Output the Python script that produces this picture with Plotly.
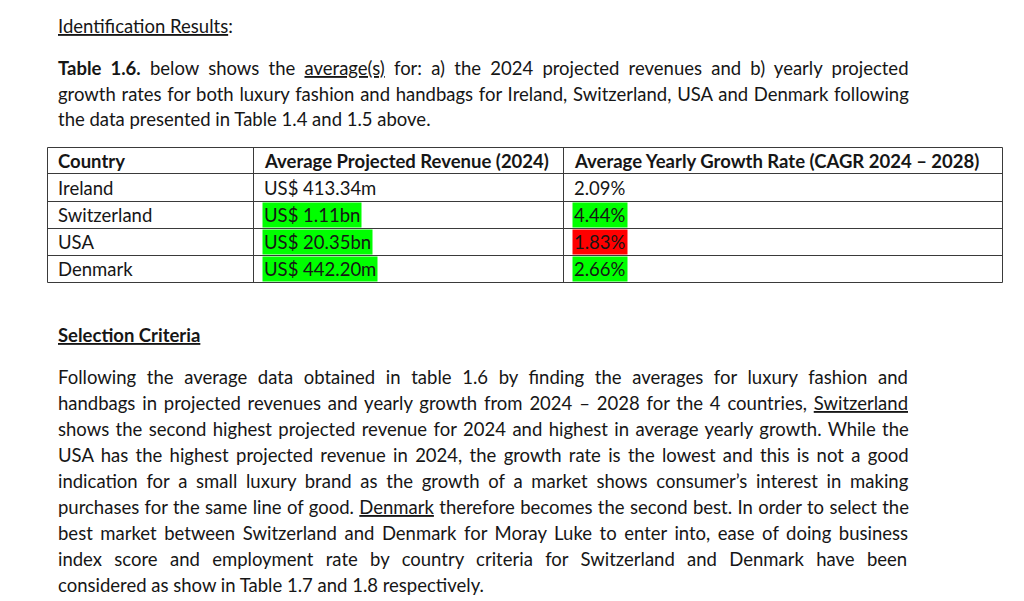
import plotly.graph_objects as go

# ---------------- data ----------------
heading = "<u>Identification Results</u>:"
intro_lines = [
    "<b>Table 1.6.</b> below shows the <u>average(s)</u> for: a) the 2024 projected revenues and b) yearly projected",
    "growth rates for both luxury fashion and handbags for Ireland, Switzerland, USA and Denmark following",
    "the data presented in Table 1.4 and 1.5 above.",
]
table_header = ["Country", "Average Projected Revenue (2024)", "Average Yearly Growth Rate (CAGR 2024 – 2028)"]
countries = ["Ireland", "Switzerland", "USA", "Denmark"]
avg_revenue_2024 = ["US$ 413.34m", "US$ 1.11bn", "US$ 20.35bn", "US$ 442.20m"]
avg_growth_rate = ["2.09%", "4.44%", "1.83%", "2.66%"]
revenue_highlight = [None, "green", "green", "green"]
growth_highlight = [None, "green", "red", "green"]
section_title = "<b><u>Selection Criteria</u></b>"
body_lines = [
    "Following the average data obtained in table 1.6 by finding the averages for luxury fashion and",
    "handbags in projected revenues and yearly growth from 2024 – 2028 for the 4 countries, <u>Switzerland</u>",
    "shows the second highest projected revenue for 2024 and highest in average yearly growth. While the",
    "USA has the highest projected revenue in 2024, the growth rate is the lowest and this is not a good",
    "indication for a small luxury brand as the growth of a market shows consumer’s interest in making",
    "purchases for the same line of good. <u>Denmark</u> therefore becomes the second best. In order to select the",
    "best market between Switzerland and Denmark for Moray Luke to enter into, ease of doing business",
    "index score and employment rate by country criteria for Switzerland and Denmark have been",
    "considered as show in Table 1.7 and 1.8 respectively.",
]

# ---------------- style / layout ----------------
FONT = "Lato"
FS = 18.5
TXT = "#161616"
HL = {"green": "#00ff00", "red": "#ff0000"}
LEFT = 56
intro_spacing = [4.5, 1.0, 0]
body_spacing = [5.9, 2.1, 1.7, 2.6, 4.0, 0.65, 2.8, 7.6, 0]
intro_y0, line_gap = 68, 25.6
body_y0, body_gap = 377, 26
col_edges = [47.5, 253.5, 563.5, 1002.5]
row_edges = [147.5, 173.5, 201.5, 228.5, 255.5, 282.5]
PAGE_OFF = 8  # browser body margin

fig = go.Figure(go.Scatter(x=[], y=[], showlegend=False))
ann = []

def add_text(x, y, text, spacing=0, bg=None):
    if spacing:
        text = f"<span style='word-spacing:{spacing}px'>{text}</span>"
    a = dict(x=x, y=y, xref="x", yref="y", text=text, showarrow=False,
             xanchor="left", yanchor="middle", align="left",
             font=dict(family=FONT, size=FS, color=TXT))
    if bg:
        a.update(bgcolor=HL[bg], borderpad=1)
    ann.append(a)

add_text(LEFT, 26, heading)
for i, line in enumerate(intro_lines):
    add_text(LEFT, intro_y0 + i * line_gap, line, intro_spacing[i])

# table
shapes = []
for y in row_edges:
    shapes.append(dict(type="line", xref="x", yref="y", x0=col_edges[0], x1=col_edges[-1], y0=y, y1=y,
                       line=dict(color="#3a3a3a", width=1)))
for x in col_edges:
    shapes.append(dict(type="line", xref="x", yref="y", x0=x, x1=x, y0=row_edges[0], y1=row_edges[-1],
                       line=dict(color="#3a3a3a", width=1)))

centers = [(row_edges[i] + row_edges[i + 1]) / 2 for i in range(len(row_edges) - 1)]
for j, h in enumerate(table_header):
    add_text(col_edges[j] + 8.5, centers[0], f"<b>{h}</b>")
for i, c in enumerate(countries):
    y = centers[i + 1]
    add_text(col_edges[0] + 8.5, y, c)
    add_text(col_edges[1] + 8, y, avg_revenue_2024[i], bg=revenue_highlight[i])
    add_text(col_edges[2] + 8, y, avg_growth_rate[i], bg=growth_highlight[i])

add_text(LEFT, 335, section_title)
for i, line in enumerate(body_lines):
    add_text(LEFT, body_y0 + i * body_gap, line, body_spacing[i])

fig.update_layout(
    width=1024 - 2 * PAGE_OFF + 8, height=601 - PAGE_OFF, margin=dict(l=0, r=0, t=0, b=0),
    paper_bgcolor="white", plot_bgcolor="white",
    xaxis=dict(range=[PAGE_OFF, 1024], visible=False, fixedrange=True),
    yaxis=dict(range=[601, PAGE_OFF], visible=False, fixedrange=True),
    annotations=ann, shapes=shapes, showlegend=False,
)
fig.write_html("out.html", config={"displayModeBar": False})
